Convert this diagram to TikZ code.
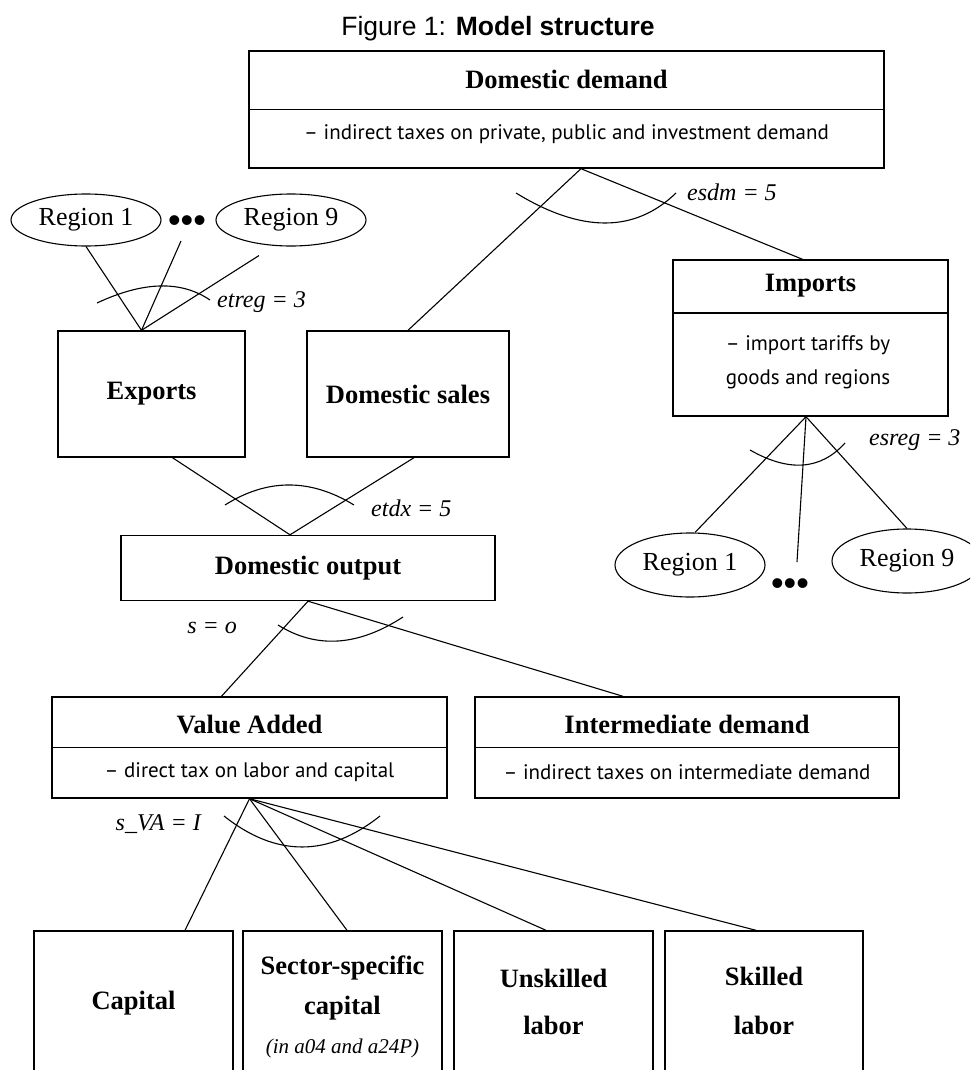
\documentclass[tikz,border=0pt]{standalone}
\usepackage{fontspec}
\setmainfont{Liberation Serif}
\newfontfamily\notefont{PT Sans}
\newfontfamily\headfont{Liberation Sans}
\usepackage{tikz}
\usetikzlibrary{shapes.geometric,calc}
\tikzset{
    plain-box/.style = {draw, line width=1.4pt, rectangle, inner sep=0pt},
    box-title/.style = {font=\fontsize{26.5}{30}\selectfont\bfseries, align=center},
    tax-note/.style = {font=\notefont\fontsize{21}{34}\selectfont, align=center},
    region-oval/.style = {draw, line width=1.1pt, ellipse, minimum width=150pt, inner sep=0pt, font=\fontsize{26}{30}\selectfont},
    many-dots/.style = {font=\headfont\fontsize{36}{36}\selectfont, inner sep=0pt},
    elast-label/.style = {font=\fontsize{24}{28}\selectfont\itshape, inner sep=0pt},
    tree-line/.style = {line width=1.1pt},
}

\begin{document}
\begin{tikzpicture}[x=1pt, y=-1pt]
\clip (0,0) rectangle (970,1070);

\node[font=\headfont\fontsize{26.5}{30}\selectfont] (title) at (498,29) {Figure 1: \textbf{Model structure}};

% top: domestic demand
\node[plain-box, minimum width=635pt, minimum height=117pt] (dd) at (566.5,109.5) {};
\draw[line width=1.4pt] (dd.west) -- (dd.east);
\node[box-title] (dd-name) at (566.5,79) {Domestic demand};
\node[tax-note] (dd-tax) at (566.5,134) {– indirect taxes on private, public and investment demand};

% exports side
\node[region-oval, minimum height=52pt] (exp-r1) at (86,220) {Region 1};
\node[many-dots] (exp-dots) at (187,224) {•••};
\node[region-oval, minimum height=52pt] (exp-r9) at (291,220) {Region 9};
\node[plain-box, minimum width=187pt, minimum height=126pt, box-title] (exports) at (151.5,394) {Exports};
\node[plain-box, minimum width=202pt, minimum height=126pt, box-title] (dom-sales) at (408,394) {Domestic sales};

% imports side
\node[plain-box, minimum width=275pt, minimum height=156pt] (imports) at (810.5,338) {};
\draw[line width=1.4pt] ($(imports.west)+(0,-25)$) -- ($(imports.east)+(0,-25)$);
\node[box-title] (imp-name) at (810.5,286) {Imports};
\node[tax-note] (imp-tax) at (808,362) {– import tariffs by\\goods and regions};
\node[region-oval, minimum height=64pt] (imp-r1) at (690,565) {Region 1};
\node[many-dots] (imp-dots) at (790,587) {•••};
\node[region-oval, minimum height=64pt] (imp-r9) at (907,561) {Region 9};

% output and its inputs
\node[plain-box, minimum width=374pt, minimum height=65pt, box-title] (dom-out) at (308,568) {Domestic output};

\node[plain-box, minimum width=395pt, minimum height=101pt] (va) at (249.5,747.5) {};
\draw[line width=1.4pt] (va.west) -- (va.east);
\node[box-title] (va-name) at (249.5,724) {Value Added};
\node[tax-note] (va-tax) at (249.5,772) {– direct tax on labor and capital};

\node[plain-box, minimum width=424pt, minimum height=101pt] (inter) at (687,747.5) {};
\draw[line width=1.4pt] (inter.west) -- (inter.east);
\node[box-title] (inter-name) at (687,724) {Intermediate demand};
\node[tax-note] (inter-tax) at (687,772) {– indirect taxes on intermediate demand};

% factors
\node[plain-box, minimum width=199pt, minimum height=200pt] (capital) at (133.5,1031) {};
\node[box-title] (capital-name) at (133.5,1003) {Capital};
\node[plain-box, minimum width=199pt, minimum height=200pt] (sector) at (342.5,1031) {};
\node[box-title, font=\fontsize{26.5}{40}\selectfont\bfseries] (sector-name) at (342.5,988) {Sector-specific\\capital};
\node[font=\fontsize{21}{24}\selectfont\itshape] (sector-note) at (342.5,1048) {(in a04 and a24P)};
\node[plain-box, minimum width=199pt, minimum height=200pt] (unskilled) at (553.5,1031) {};
\node[box-title, font=\fontsize{26.5}{47}\selectfont\bfseries] (unskilled-name) at (553.5,1001.5) {Unskilled\\labor};
\node[plain-box, minimum width=198pt, minimum height=200pt] (skilled) at (764,1031) {};
\node[box-title, font=\fontsize{26.5}{49}\selectfont\bfseries] (skilled-name) at (764,1000.5) {Skilled\\labor};

% nesting lines
\coordinate (dd-split) at ($(dd.south)+(14.5,0)$);
\draw[tree-line] (dd-split) -- (dom-sales.north);
\draw[tree-line] (dd-split) -- ($(imports.north)+(-8,0)$);

\coordinate (exp-join) at ($(exports.north)+(-10,0)$);
\draw[tree-line] (exp-r1.south) -- (exp-join);
\draw[tree-line] ($(exp-dots)+(-6,17)$) -- (exp-join);
\draw[tree-line] ($(exp-r9.south)+(-32,9)$) -- (exp-join);

\coordinate (imp-split) at ($(imports.south)+(-4.5,0)$);
\draw[tree-line] (imp-split) -- ($(imp-r1.north)+(5,0)$);
\draw[tree-line] (imp-split) -- ($(imp-dots)+(7,-25)$);
\draw[tree-line] (imp-split) -- (imp-r9.north);

\coordinate (out-join) at ($(dom-out.north)+(-18,0)$);
\draw[tree-line] ($(exports.south)+(21,0)$) -- (out-join);
\draw[tree-line] ($(dom-sales.south)+(6,0)$) -- (out-join);

\draw[tree-line] (dom-out.south) -- ($(va.north)+(-28,0)$);
\draw[tree-line] (dom-out.south) -- ($(inter.north)+(-64,0)$);

\draw[tree-line] (va.south) -- ($(capital.north)+(51.5,0)$);
\draw[tree-line] (va.south) -- ($(sector.north)+(4.5,0)$);
\draw[tree-line] (va.south) -- ($(unskilled.north)+(-7.5,0)$);
\draw[tree-line] (va.south) -- ($(skilled.north)+(-8,0)$);

% elasticity arcs
\draw[tree-line] (516,193) .. controls (581.3,233) and (634.7,233) .. (676,193);
\node[elast-label, anchor=west] (esdm) at (687,192) {esdm = 5};
\draw[tree-line] (97,303) .. controls (143.3,281.3) and (181,280.3) .. (210,300);
\node[elast-label, anchor=west] (etreg) at (217,302) {etreg = 3};
\draw[tree-line] (750,450) .. controls (789,472.3) and (820.7,470) .. (845,443);
\node[elast-label, anchor=west] (esreg) at (869,440) {esreg = 3};
\draw[tree-line] (225,505) .. controls (267.3,478.3) and (310.3,478.3) .. (354,505);
\node[elast-label, anchor=west] (etdx) at (371,508) {etdx = 5};
\draw[tree-line] (278,625) .. controls (316.3,649) and (358,646.3) .. (403,617);
\node[elast-label, anchor=east] (s-out) at (237,628) {s = o};
\draw[tree-line] (224,816) .. controls (276,857.3) and (328,857.3) .. (380,816);
\node[elast-label, anchor=east] (s-va) at (201,824) {s\_VA = I};
\end{tikzpicture}
\end{document}
